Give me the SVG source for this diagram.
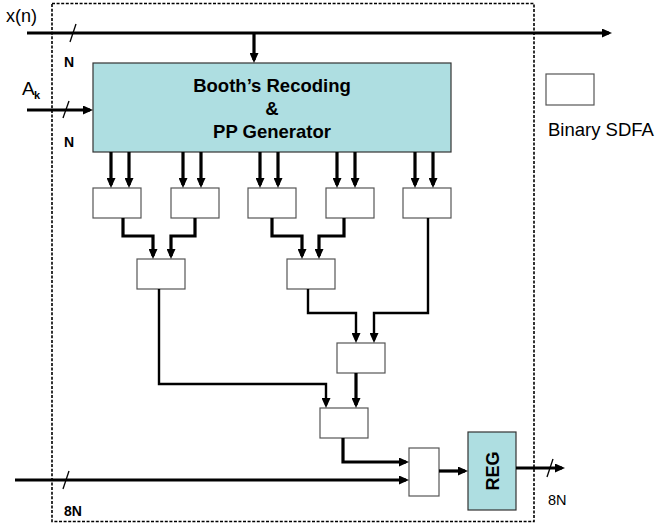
<svg xmlns="http://www.w3.org/2000/svg" width="659" height="523" viewBox="0 0 659 523">
<style>
.box{fill:#fff;stroke:#555;stroke-width:1.2}
.blue{fill:#AEDEE1;stroke:#333;stroke-width:1.2}
.w{fill:none;stroke:#000;stroke-width:3.2;stroke-linejoin:miter}
.t{fill:none;stroke:#000;stroke-width:2.4}
.sl{stroke:#000;stroke-width:1.3}
.txt{font-family:"Liberation Sans",Arial,sans-serif;fill:#000}
.b{font-weight:bold}
</style>
<defs>
<marker id="ah" markerUnits="userSpaceOnUse" viewBox="0 0 10 9" markerWidth="10" markerHeight="9" refX="7" refY="4.5" orient="auto">
<path d="M0,0 L10,4.5 L0,9 z" fill="#000"/>
</marker>
</defs>
<rect x="52" y="3.5" width="482" height="518" fill="none" stroke="#000" stroke-width="1.6" stroke-dasharray="3,1.6"/>

<g id="booth">
<rect class="blue" x="93" y="63" width="358" height="89"/>
<text class="txt b" x="272" y="92" font-size="18.5" text-anchor="middle">Booth’s Recoding</text>
<text class="txt b" x="272" y="115" font-size="18.5" text-anchor="middle">&amp;</text>
<text class="txt b" x="272" y="138" font-size="18.5" text-anchor="middle">PP Generator</text>
</g>
<g id="a1"><rect class="box" x="93" y="188" width="48" height="30"/></g>
<g id="a2"><rect class="box" x="171" y="188" width="48" height="30"/></g>
<g id="a3"><rect class="box" x="248" y="188" width="48" height="30"/></g>
<g id="a4"><rect class="box" x="326" y="188" width="48" height="30"/></g>
<g id="a5"><rect class="box" x="403" y="188" width="48" height="30"/></g>
<g id="b1"><rect class="box" x="137" y="259" width="48" height="30"/></g>
<g id="b2"><rect class="box" x="287" y="259" width="48" height="30"/></g>
<g id="c1"><rect class="box" x="337" y="343" width="48" height="30"/></g>
<g id="d1"><rect class="box" x="320" y="408" width="48" height="30"/></g>
<g id="mux"><rect class="box" x="409" y="448" width="30" height="48"/></g>
<g id="reg">
<rect class="blue" x="468" y="432" width="48" height="78"/>
<text class="txt b" x="0" y="0" font-size="18" text-anchor="middle" transform="translate(499,471) rotate(-90)">REG</text>
</g>
<g id="legend">
<rect class="box" x="546" y="74" width="48" height="31"/>
<text class="txt" x="548" y="136" font-size="18.5">Binary SDFA</text>
</g>

<g id="connectors">
<line class="w" x1="27" y1="33" x2="609" y2="33" marker-end="url(#ah)"/>
<line class="w" x1="254" y1="33" x2="254" y2="60" marker-end="url(#ah)"/>
<line class="w" x1="27" y1="110" x2="90" y2="110" marker-end="url(#ah)"/>
<line class="w" x1="111" y1="152" x2="111" y2="185" marker-end="url(#ah)"/>
<line class="w" x1="129" y1="152" x2="129" y2="185" marker-end="url(#ah)"/>
<line class="w" x1="183" y1="152" x2="183" y2="185" marker-end="url(#ah)"/>
<line class="w" x1="201" y1="152" x2="201" y2="185" marker-end="url(#ah)"/>
<line class="w" x1="260" y1="152" x2="260" y2="185" marker-end="url(#ah)"/>
<line class="w" x1="278" y1="152" x2="278" y2="185" marker-end="url(#ah)"/>
<line class="w" x1="337" y1="152" x2="337" y2="185" marker-end="url(#ah)"/>
<line class="w" x1="355" y1="152" x2="355" y2="185" marker-end="url(#ah)"/>
<line class="w" x1="415" y1="152" x2="415" y2="185" marker-end="url(#ah)"/>
<line class="w" x1="433" y1="152" x2="433" y2="185" marker-end="url(#ah)"/>
<polyline class="w" points="123,218 123,236 153,236 153,256" marker-end="url(#ah)"/>
<polyline class="w" points="195,218 195,236 171,236 171,256" marker-end="url(#ah)"/>
<polyline class="w" points="272,218 272,236 302,236 302,256" marker-end="url(#ah)"/>
<polyline class="w" points="344,218 344,236 319,236 319,256" marker-end="url(#ah)"/>
<polyline class="t" points="308,289 308,313 356,313 356,340" marker-end="url(#ah)"/>
<polyline class="t" points="428,218 428,313 374,313 374,340" marker-end="url(#ah)"/>
<polyline class="t" points="159,289 159,384 326,384 326,405" marker-end="url(#ah)"/>
<line class="w" x1="356" y1="373" x2="356" y2="405" marker-end="url(#ah)"/>
<polyline class="w" points="343,438 343,462 406,462" marker-end="url(#ah)"/>
<line class="w" x1="15" y1="480" x2="406" y2="480" marker-end="url(#ah)"/>
<line class="w" x1="439" y1="471" x2="465" y2="471" marker-end="url(#ah)"/>
<line class="w" x1="516" y1="468" x2="562" y2="468" marker-end="url(#ah)"/>
<line class="sl" x1="76" y1="24" x2="70" y2="42"/>
<line class="sl" x1="69" y1="101" x2="63" y2="118"/>
<line class="sl" x1="69" y1="471" x2="63" y2="489"/>
<line class="sl" x1="553" y1="459" x2="547" y2="477"/>
</g>

<text class="txt" x="6" y="22" font-size="18">x(n)</text>
<text class="txt" x="22" y="95" font-size="19">A</text>
<text class="txt b" x="34" y="99" font-size="11">k</text>
<text class="txt b" x="64" y="67" font-size="14">N</text>
<text class="txt b" x="64" y="147" font-size="14">N</text>
<text class="txt b" x="64" y="516" font-size="14">8N</text>
<text class="txt" x="548" y="505" font-size="14.5">8N</text>
</svg>
